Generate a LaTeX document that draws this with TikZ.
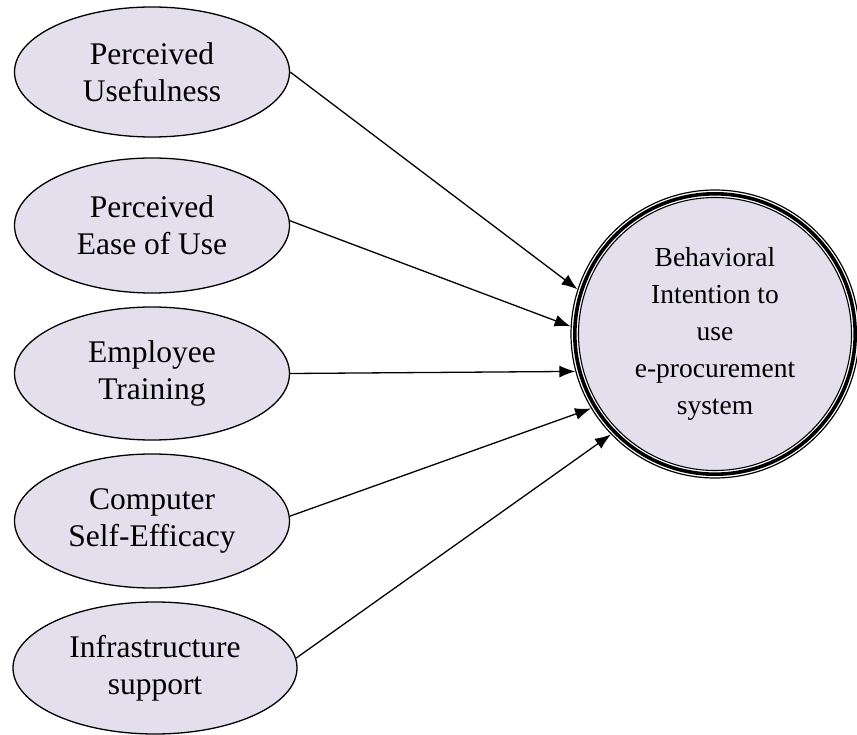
\documentclass[tikz,border=0pt]{standalone}
\usepackage{fontspec}
\setmainfont{Liberation Serif}
\usetikzlibrary{shapes.geometric,arrows.meta}
\definecolor{lav}{RGB}{228,223,236}
\tikzset{
  factor/.style={ellipse, draw=black, line width=1.3pt, fill=lav, inner sep=0pt,
    minimum width=275pt, minimum height=132pt, align=center,
    font=\fontsize{31.5}{37}\selectfont},
  link/.style={line width=1.3pt, -{Latex[length=16pt,width=12pt]}}
}
\begin{document}
\begin{tikzpicture}[x=1pt,y=-1pt]
\useasboundingbox (0,0) rectangle (857,735);
\node[factor, minimum height=130pt] (e1) at (152,72) {Perceived\\Usefulness};
\node[factor, minimum height=135pt] (e2) at (152,225.5) {Perceived\\Ease of Use};
\node[factor, minimum height=133pt] (e3) at (152,373.5) {Employee\\Training};
\node[factor, minimum height=134pt] (e4) at (152,521) {Computer\\Self-Efficacy};
\node[factor, minimum width=284pt, minimum height=132pt] (e5) at (155,668) {Infrastructure\\support};
\node[circle, draw=black, line width=1.2pt, minimum size=288pt, inner sep=0pt] (bi) at (715,334) {};
\fill[lav] (bi.center) circle (136.5);
\draw[line width=1.1pt] (bi.center) circle (136.5);
\draw[line width=3.6pt] (bi.center) circle (140.2);
\node[align=center, font=\fontsize{27.5}{37}\selectfont] (bt) at (bi.center)
  {Behavioral\\Intention to\\use\\e-procurement\\system};
\draw[link] (e1.east) -- (bi.162);
\draw[link] (e2.2) -- (bi.177);
\draw[link] (e3.east) -- (bi.195);
\draw[link] (e4.2) -- (bi.211);
\draw[link] (e5.4) -- (bi.224);
\end{tikzpicture}
\end{document}
